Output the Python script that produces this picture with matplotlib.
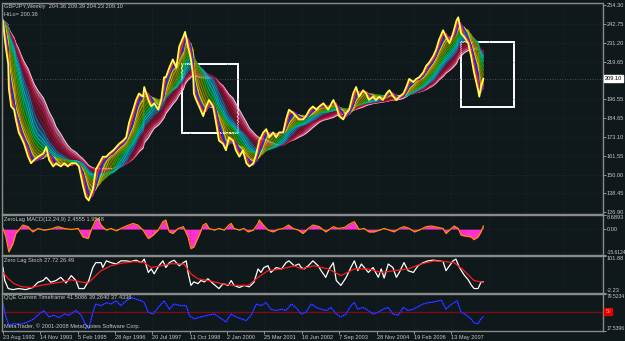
import numpy as np
import matplotlib.pyplot as plt
from matplotlib.patches import Rectangle
import matplotlib.transforms as mtransforms

plt.rcParams['font.family'] = ['Liberation Sans', 'DejaVu Sans']

# weekly GBPJPY close, week 0 = 23 Aug 1992
price_week = [0, 2, 5, 9, 10, 14, 19, 22, 27, 31,
              36, 43, 48, 53, 60, 69, 74, 79, 86, 91,
              99, 105, 111, 117, 125, 130, 137, 142, 147, 154,
              159, 165, 171, 177, 182, 189, 194, 199, 206, 211,
              216, 223, 228, 233, 240, 242, 249, 254, 259, 266,
              271, 276, 279, 285, 291, 297, 302, 309, 312, 317,
              322, 326, 327, 331, 336, 343, 348, 353, 360, 365,
              370, 377, 382, 387, 394, 399, 405, 411, 417, 422,
              429, 434, 439, 446, 451, 456, 463, 468, 473, 480,
              485, 490, 497, 502, 507, 514, 519, 525, 531, 537,
              542, 549, 557, 566, 571, 576, 583, 588, 593, 600,
              605, 610, 617, 622, 627, 634, 639, 645, 651, 657,
              662, 669, 674, 679, 686, 691, 696, 703, 708, 713,
              720, 725, 730, 737, 742, 747, 754, 759, 765, 771,
              777, 780, 785, 790, 797, 802, 807, 814, 816, 819,
              823]
price = [245, 237, 228, 218, 203, 192, 190, 184, 176, 173,
         169, 161, 157, 159, 161, 163, 167, 159, 155, 157,
         155, 157, 155, 157, 157, 155, 143, 136, 134, 141,
         153, 157, 161, 161, 163, 165, 167, 169, 171, 173,
         182, 190, 196, 200, 198, 204, 196, 192, 194, 190,
         196, 210, 210, 216, 221, 216, 229, 235, 238, 229,
         221, 210, 200, 196, 192, 186, 192, 196, 192, 182,
         171, 169, 165, 173, 171, 165, 161, 165, 157, 155,
         157, 163, 171, 176, 178, 173, 176, 173, 176, 176,
         184, 190, 188, 186, 184, 184, 186, 190, 192, 190,
         192, 194, 190, 196, 192, 186, 184, 188, 190, 200,
         204, 198, 202, 200, 196, 198, 196, 198, 196, 200,
         202, 198, 196, 198, 200, 204, 209, 207, 209, 210,
         213, 217, 219, 223, 227, 233, 239, 235, 231, 237,
         245, 247, 237, 235, 231, 223, 213, 202, 198, 204,
         209.10]

macd_week = [0, 5, 10, 17, 22, 27, 34, 43, 51, 60,
             70, 82, 94, 105, 117, 129, 137, 146, 151, 159,
             163, 168, 177, 185, 194, 202, 211, 223, 231, 240,
             249, 257, 266, 274, 279, 285, 291, 300, 309, 317,
             322, 327, 336, 343, 348, 353, 362, 370, 379, 387,
             391, 396, 405, 413, 420, 429, 437, 439, 446, 454,
             463, 471, 480, 489, 497, 506, 514, 523, 531, 542,
             553, 566, 574, 585, 593, 602, 610, 619, 627, 636,
             645, 653, 662, 670, 679, 687, 696, 705, 713, 725,
             734, 746, 754, 759, 765, 773, 780, 785, 794, 802,
             807, 814, 819, 823]
macd = [0.4, -4.8, -14, -9, -2.7, -0.6, 2.5, 1.5, -1.7, 0.4,
        -0.6, 0, 1.5, 0.4, -0.2, 0.4, -4.8, -5.8, -0.6, 5.6,
        6.7, 2.5, -0.6, 0.4, -1, 0.4, 1.9, 3.5, 2.5, -0.6,
        -5.8, -3.8, -0.6, 4.6, 5.6, -1.7, -2.7, 0.4, 1.5, -4.8,
        -12, -11, -3.8, 2.5, 3.5, 0.4, -0.6, 0.4, -0.6, 2.5,
        3.5, 0.4, -0.6, 0.4, -1.7, -0.6, 3.5, 5.6, 2.5, -0.6,
        -1.7, -0.2, 0.4, 2.5, 0.4, -0.6, -2.7, 0.4, 2.5, 1.5,
        -1.7, 1.5, 0.4, 1, 3, 4.6, -0.2, 0.4, -1.7, -1.7,
        -0.6, 0.4, -0.6, -1.7, 0.4, 1.5, 0.4, -1.7, -0.6, 1.5,
        1.9, 1, 0.4, -2.7, -0.6, 1.9, 0.4, -3.8, -4.4, -4.8,
        -6.5, -4.8, -1.7, 1.9]

stoch_week = [0, 3, 9, 17, 27, 39, 51, 60, 69, 74,
              82, 91, 99, 108, 117, 125, 130, 139, 147, 154,
              159, 168, 171, 177, 185, 194, 202, 211, 219, 228,
              237, 242, 249, 254, 259, 267, 274, 279, 285, 293,
              302, 309, 314, 317, 322, 327, 334, 339, 345, 351,
              360, 370, 377, 386, 391, 396, 405, 413, 422, 430,
              437, 442, 447, 454, 459, 468, 477, 485, 490, 499,
              507, 511, 516, 523, 531, 540, 545, 553, 559, 566,
              571, 579, 588, 596, 602, 608, 614, 619, 626, 634,
              643, 648, 653, 660, 668, 674, 679, 687, 694, 703,
              711, 720, 728, 737, 746, 754, 759, 765, 771, 776,
              782, 790, 797, 802, 807, 814, 819, 823]
stoch = [69, 32, 9, 6, 9, 6, 12, 27, 32, 41,
         27, 32, 41, 25, 46, 32, 9, 9, 32, 69,
         83, 83, 69, 88, 83, 79, 88, 88, 86, 90,
         83, 93, 55, 65, 51, 74, 88, 69, 83, 90,
         74, 83, 88, 55, 18, 28, 23, 32, 28, 37,
         23, 9, 23, 18, 32, 18, 12, 18, 14, 27,
         65, 55, 69, 74, 55, 69, 65, 83, 88, 74,
         79, 69, 65, 74, 88, 74, 60, 41, 65, 83,
         32, 18, 41, 69, 88, 60, 79, 69, 55, 69,
         41, 65, 39, 79, 69, 41, 55, 83, 60, 55,
         74, 83, 88, 90, 88, 86, 60, 74, 88, 93,
         69, 48, 34, 20, 9, 9, 27.72, 27.72]

signal_week = [0, 9, 19, 31, 48, 65, 82, 99, 117, 134,
               146, 156, 168, 185, 202, 225, 242, 254, 271, 288,
               310, 322, 334, 351, 374, 396, 420, 437, 454, 477,
               499, 511, 533, 557, 579, 602, 626, 648, 670, 694,
               716, 739, 756, 773, 790, 807, 823]
signal = [55, 37, 23, 15, 12, 18, 23, 27.5, 34, 27.5,
          25, 41, 60, 74, 81, 86, 83, 69, 74, 80,
          79, 51, 37, 32, 23, 18, 18, 41, 60, 65,
          74, 65, 74, 65, 46, 65, 65, 55, 60, 65,
          79, 88, 86, 83, 60, 32, 26.49]

qqe_week = [0, 5, 10, 19, 31, 43, 53, 62, 70, 79,
            87, 96, 105, 113, 125, 134, 142, 147, 154, 159,
            168, 177, 185, 194, 202, 211, 219, 228, 237, 242,
            249, 257, 266, 276, 285, 293, 305, 314, 319, 327,
            339, 351, 362, 374, 382, 391, 399, 408, 417, 425,
            434, 442, 451, 459, 468, 477, 485, 494, 502, 511,
            519, 528, 537, 545, 554, 562, 571, 579, 588, 596,
            602, 608, 617, 626, 634, 643, 651, 660, 668, 677,
            686, 694, 703, 711, 720, 728, 737, 746, 751, 759,
            765, 773, 778, 785, 794, 802, 807, 814, 819, 823]
qqe = [62.7, 41, 27.3, 30, 29, 32.8, 38, 46, 51.8, 41,
       44, 40, 46, 44, 52, 44, 27, 22, 49, 62.7,
       60, 65, 62.7, 68, 60, 68, 73.6, 71, 68, 65,
       49, 46, 57, 68, 54, 62.7, 60, 60, 43.7, 38,
       41, 44, 46, 38, 32.8, 46, 41, 38, 35, 44,
       62.7, 60, 65, 54, 52, 54, 52, 62.7, 57, 46,
       49, 62.7, 57, 54, 52, 57, 46, 41, 46, 60,
       65, 54, 57, 52, 46, 49, 54, 57, 46, 44,
       57, 52, 54, 58, 62.7, 65, 66, 68, 69, 54,
       60, 65, 68, 49, 44, 38, 31, 30, 38, 41.5]

date_labels = ['23 Aug 1992', '14 Nov 1993', '5 Feb 1995', '28 Apr 1996', '20 Jul 1997',
               '11 Oct 1998', '2 Jan 2000', '25 Mar 2001', '16 Jun 2002', '7 Sep 2003',
               '28 Nov 2004', '19 Feb 2006', '13 May 2007']
price_ticks = [254.30, 242.75, 231.20, 219.65, 196.55, 184.65, 173.10, 161.55, 150.00, 138.45, 126.90]
last_close = 209.10

# rainbow of simple moving averages, lengths in weeks, fast -> slow
ma_weeks = [11, 16, 22, 27, 33, 38, 44, 49, 55, 60, 66, 71, 77, 82, 88, 93, 99, 104]
ma_colors = ['#ff2020', '#1a2cff', '#e8d000', '#b8a000', '#8a8000', '#6a8a00',
             '#30a000', '#00b040', '#00b890', '#00b0c0', '#1888b0', '#3060a0',
             '#701838', '#8c1028', '#a81438', '#c82456', '#e8508c', '#ffc0d8']


def sma(p, weeks, step):
    # moving average over the read points, history before week 0 held at the first close
    n = max(1, int(round(weeks / step)))
    padded = np.concatenate([np.full(n - 1, p[0]), p])
    return np.convolve(padded, np.ones(n) / n, mode='valid')


BG = '#0f181a'
FG = '#c8c8c8'
GRID = '#2a3538'
FS = 4.1

fig = plt.figure(figsize=(6.25, 3.41), dpi=100, facecolor=BG)
W, H = 625.0, 341.0
x0, x1 = 2, 603


def panel(top, bottom):
    ax = fig.add_axes([x0 / W, 1 - bottom / H, (x1 - x0) / W, (bottom - top) / H])
    ax.set_facecolor(BG)
    for s in ax.spines.values():
        s.set_color('#8a8a8a')
        s.set_linestyle((0, (1, 1)))
        s.set_linewidth(1.0)
    ax.set_xlim(-1.7, 1028)
    ax.yaxis.tick_right()
    ax.tick_params(axis='y', colors=FG, labelsize=FS, length=1.8, width=0.5, pad=0.8)
    ax.tick_params(axis='x', length=0, labelbottom=False)
    ax.set_xticks(np.arange(0, 1028, 64))
    ax.grid(True, color=GRID, linestyle=(0, (1, 3)), linewidth=0.5)
    return ax


ax = panel(3, 213.5)
ax_m = panel(215, 254.5)
ax_s = panel(256, 292.5)
ax_q = panel(294, 331)

# main chart
ax.set_ylim(126.0, 255.8)
ax.set_yticks(price_ticks)
ax.set_yticklabels(['%.2f' % v for v in price_ticks])
ax.axhline(last_close, color='#56646a', linestyle=(0, (1, 2)), linewidth=0.6)

step = (price_week[-1] - price_week[0]) / (len(price_week) - 1)
pr = np.array(price, dtype=float)
mas = [sma(pr, w, step) for w in ma_weeks]
for i in range(len(mas) - 1, 0, -1):
    ax.fill_between(price_week, mas[i - 1], mas[i], color=ma_colors[i], alpha=0.5, linewidth=0)
for i in range(len(mas) - 1, -1, -1):
    ax.plot(price_week, mas[i], color=ma_colors[i], linewidth=0.7)
ax.fill_between(price_week, price, mas[0], color='#d8c000', alpha=0.5, linewidth=0)
ax.plot(price_week, mas[1], color=ma_colors[1], linewidth=0.9)
ax.plot(price_week, mas[0], color=ma_colors[0], linewidth=0.9)
ax.plot(price_week, price, color='#ffff50', linewidth=1.3)

ax.add_patch(Rectangle((306, 175.4), 97, 42.7, fill=False, edgecolor='white', linewidth=1.4))
ax.add_patch(Rectangle((784, 191.4), 91, 40.5, fill=False, edgecolor='white', linewidth=1.4))

ax.text(0.003, 0.995, 'GBPJPY,Weekly  204.36 209.39 204.23 209.10', transform=ax.transAxes,
        color=FG, fontsize=FS, va='top', ha='left')
ax.text(0.003, 0.958, 'HiLo= 200.36', transform=ax.transAxes,
        color=FG, fontsize=FS, va='top', ha='left')
tr = mtransforms.blended_transform_factory(ax.transAxes, ax.transData)
ax.text(1.003, last_close, '%.2f' % last_close, transform=tr, color='black', fontsize=FS,
        va='center', ha='left', bbox=dict(boxstyle='square,pad=0.15', fc='white', ec='white'))

# zero lag MACD
ax_m.set_ylim(-15.6124, 8.6893)
ax_m.fill_between(macd_week, macd, 0, color='#ff30d0', linewidth=0)
ax_m.plot(macd_week, macd, color='#ff8c00', linewidth=0.9)
ax_m.set_yticks([8.6893, 0.0, -15.6124])
ax_m.set_yticklabels(['8.6893', '0.00', '-15.6124'])
ax_m.text(0.003, 0.96, 'ZeroLag MACD(12,24,9) 2.4555 1.9548', transform=ax_m.transAxes,
          color=FG, fontsize=FS, va='top', ha='left')

# zero lag stochastic
ax_s.set_ylim(-2.23, 101.88)
ax_s.plot(stoch_week, stoch, color='white', linewidth=0.9)
ax_s.plot(signal_week, signal, color='#ff1a1a', linewidth=0.9)
ax_s.set_yticks([101.88, -2.23])
ax_s.set_yticklabels(['101.88', '-2.23'])
ax_s.text(0.003, 0.95, 'Zero Lag Stoch 27.72 26.49', transform=ax_s.transAxes,
          color=FG, fontsize=FS, va='top', ha='left')

# QQE
ax_q.set_ylim(17.5396, 79.5234)
ax_q.axhline(50, color='#7a0c18', linewidth=1.0)
ax_q.plot(qqe_week, qqe, color='#1420ff', linewidth=1.0)
ax_q.plot(qqe_week, qqe, color='#b0b0c8', linewidth=0.4, linestyle=(0, (1, 3)))
ax_q.set_yticks([79.5234, 17.5396])
ax_q.set_yticklabels(['79.5234', '17.5396'])
ax_q.text(0.003, 0.96, 'QQE Current Timeframe 41.5086 39.2640 37.4336', transform=ax_q.transAxes,
          color=FG, fontsize=FS, va='top', ha='left')
ax_q.text(0.003, 0.05, 'MetaTrader, \u00a9 2001-2008 MetaQuotes Software Corp.', transform=ax_q.transAxes,
          color=FG, fontsize=FS, va='bottom', ha='left')
trq = mtransforms.blended_transform_factory(ax_q.transAxes, ax_q.transData)
ax_q.text(1.004, 50, '50', transform=trq, color='#ff9090', fontsize=FS - 0.5, va='center', ha='left',
          bbox=dict(boxstyle='square,pad=0.2', fc='#e00000', ec='#e00000'))

# extreme labels sit inside their panel; long ones a touch smaller so they fit
for a in (ax_m, ax_s, ax_q):
    labs = a.get_yticklabels()
    labs[0].set_va('top')
    labs[-1].set_va('bottom')
    for lab in labs:
        if len(lab.get_text()) > 6:
            lab.set_fontsize(3.6)

# date axis
ax_q.tick_params(axis='x', labelbottom=True, length=2, width=0.5, colors=FG, labelsize=FS, pad=1,
                 direction='out')
ax_q.set_xticks(np.arange(0, 64 * len(date_labels), 64))
ax_q.set_xticklabels(date_labels)
for lab in ax_q.get_xticklabels():
    lab.set_ha('left')

fig.savefig('out.png', dpi=100, facecolor=BG)
